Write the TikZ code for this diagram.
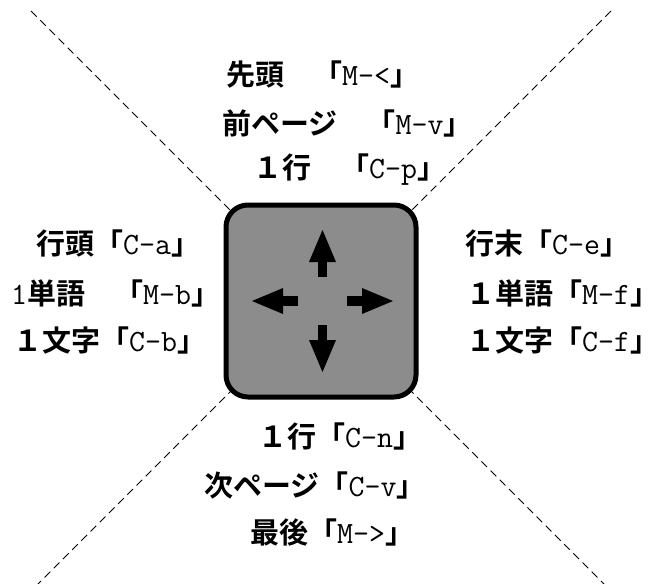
\documentclass[tikz,border=0pt]{standalone}
\usepackage{fontspec}
\newfontfamily\jp{Noto Sans CJK JP Bold}
\newfontfamily\jph{Noto Sans CJK JP Bold}[RawFeature=+halt]
\definecolor{boxgray}{RGB}{140,140,140}
\tikzset{
  lbl/.style={inner sep=0pt, anchor=west},
  dline/.style={line width=1pt, dash pattern=on 8pt off 5pt},
  arr/.style={fill=black, draw=none}
}
\newcommand{\jt}[1]{{\fontsize{29}{32}\selectfont\jp #1}}
\newcommand{\jth}[1]{{\fontsize{29}{32}\selectfont\jph #1}}
\newcommand{\mt}[1]{{\fontsize{31}{32}\selectfont\ttfamily #1}}
\newcommand{\kb}[3]{\jt{#1}\mt{#2}\jt{#3}}
\begin{document}
\begin{tikzpicture}[x=1pt,y=-1pt]
\useasboundingbox (0,0) rectangle (654,584);
% diagonal dashed lines
\coordinate (c) at (321,301);
\coordinate (tl) at (31,11);
\coordinate (br) at (605,585);
\coordinate (tr) at (611,11);
\coordinate (bl) at (37,585);
\draw[dline] (tl) -- (c) -- (br);
\draw[dline] (tr) -- (c) -- (bl);
% key box
\node[draw=black, line width=5pt, fill=boxgray, rounded corners=22pt,
      minimum width=190pt, minimum height=192pt, inner sep=0pt] (key) at (321,301) {};
% arrows
\fill[arr] (318,262) rectangle (327,277);
\fill[arr] (309,262) -- (336,262) -- (322.5,230) -- cycle;
\fill[arr] (318,325) rectangle (327,340);
\fill[arr] (309,340) -- (336,340) -- (322.5,372) -- cycle;
\fill[arr] (283,296) rectangle (298,306);
\fill[arr] (283,288) -- (283,314) -- (252,301) -- cycle;
\fill[arr] (347,296) rectangle (362,306);
\fill[arr] (362,288) -- (362,314) -- (393,301) -- cycle;
% top labels
\node[lbl] (t1) at (226,75)  {\kb{先頭　「}{M-<}{」}};
\node[lbl] (t2) at (222,123) {\kb{前ページ　「}{M-v}{」}};
\node[lbl] (t3) at (253,170) {\kb{１行　「}{C-p}{」}};
% left labels
\node[lbl] (l1) at (36,243) {\kb{行頭「}{C-a}{」}};
\node[lbl] (l2) at (11,293) {\mt{1}\kb{単語　「}{M-b}{」}};
\node[lbl] (l3) at (13,340) {\kb{１文字「}{C-b}{」}};
% right labels
\node[lbl] (r1) at (465,243) {\kb{行末「}{C-e}{」}};
\node[lbl] (r2) at (466,293) {\jt{１単語「}\mt{M-f}\jth{」}};
\node[lbl] (r3) at (466,340) {\jt{１文字「}\mt{C-f}\jth{」}};
% bottom labels
\node[lbl] (b1) at (258,436) {\kb{１行「}{C-n}{」}};
\node[lbl] (b2) at (204,485) {\kb{次ページ「}{C-v}{」}};
\node[lbl] (b3) at (250,532) {\kb{最後「}{M->}{」}};
\end{tikzpicture}
\end{document}
